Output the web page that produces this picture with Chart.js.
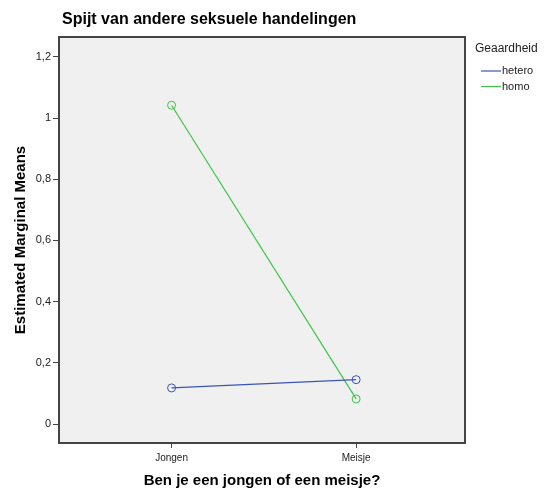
<!DOCTYPE html>
<html>
<script src="https://cdn.jsdelivr.net/npm/chart.js@4.4.0/dist/chart.umd.min.js"></script>
<body style="margin:0;background:#fff">
  <div style="width:545px;height:492px"><canvas id="myChart"></canvas></div>
  <script>
    var categories = ["Jongen", "Meisje"];
    var hetero = [0.118, 0.145];
    var homo = [1.042, 0.082];
    var yTicks = [0, 0.2, 0.4, 0.6, 0.8, 1, 1.2];
    var yLabels = ["0", "0,2", "0,4", "0,6", "0,8", "1", "1,2"];

    function points(vals) {
      return vals.map(function(v, i) { return { x: i + 1, y: v }; });
    }

    var frame = {
      id: "frame",
      beforeDraw: function(chart) {
        var a = chart.chartArea, c = chart.ctx;
        c.save();
        c.fillStyle = "#f0f0f0";
        c.fillRect(a.left, a.top, a.right - a.left, a.bottom - a.top);
        c.restore();
      },
      afterDraw: function(chart) {
        var a = chart.chartArea, c = chart.ctx;
        c.save();
        c.strokeStyle = "#444";
        c.lineWidth = 2;
        c.strokeRect(a.left, a.top, a.right - a.left, a.bottom - a.top);
        // title
        c.fillStyle = "#000";
        c.font = "bold 16px 'Liberation Sans', Arial";
        c.textBaseline = "alphabetic";
        c.fillText("Spijt van andere seksuele handelingen", 62, 24);
        // legend
        c.fillStyle = "#222";
        c.font = "12px 'Liberation Sans', Arial";
        c.fillText("Geaardheid", 475, 52);
        c.font = "11px 'Liberation Sans', Arial";
        chart.data.datasets.forEach(function(ds, i) {
          var y = 71 + i * 15.5;
          c.strokeStyle = ds.borderColor;
          c.lineWidth = 1.2;
          c.beginPath();
          c.moveTo(481, y);
          c.lineTo(501, y);
          c.stroke();
          c.fillStyle = "#222";
          c.textBaseline = "middle";
          c.fillText(ds.label, 502, y);
        });
        c.restore();
      }
    };

    new Chart(document.getElementById("myChart"), {
      type: "line",
      data: {
        datasets: [{
          label: "hetero",
          data: points(hetero),
          borderColor: "#3a55b4",
          backgroundColor: "rgba(0,0,0,0)",
          borderWidth: 1.2,
          pointRadius: 4,
          pointBorderWidth: 1,
          pointHoverRadius: 4
        }, {
          label: "homo",
          data: points(homo),
          borderColor: "#3ec44a",
          backgroundColor: "rgba(0,0,0,0)",
          borderWidth: 1.2,
          pointRadius: 4,
          pointBorderWidth: 1,
          pointHoverRadius: 4
        }]
      },
      options: {
        responsive: true,
        maintainAspectRatio: false,
        animation: false,
        layout: { padding: { left: 0, right: 80, top: 37, bottom: 0 } },
        plugins: { legend: { display: false }, tooltip: { enabled: false } },
        scales: {
          x: {
            type: "linear",
            min: 0.39,
            max: 2.59,
            afterBuildTicks: function(s) { s.ticks = categories.map(function(c, i) { return { value: i + 1 }; }); },
            afterFit: function(s) { s.height = 49; },
            grid: { drawOnChartArea: false, drawTicks: true, tickLength: 5, color: "#444" },
            border: { color: "#444", width: 2 },
            ticks: {
              padding: 4,
              color: "#222",
              font: { family: "'Liberation Sans', Arial", size: 10 },
              callback: function(v, i) { return categories[i]; }
            },
            title: {
              display: true,
              text: "Ben je een jongen of een meisje?",
              color: "#000",
              padding: 2,
              font: { family: "'Liberation Sans', Arial", size: 15, weight: "bold" }
            }
          },
          y: {
            min: -0.062,
            max: 1.265,
            afterBuildTicks: function(s) { s.ticks = yTicks.map(function(v) { return { value: v }; }); },
            afterFit: function(s) { s.width = 59; },
            grid: { drawOnChartArea: false, drawTicks: true, tickLength: 6, color: "#444" },
            border: { color: "#444", width: 2 },
            ticks: {
              padding: 2,
              color: "#222",
              font: { family: "'Liberation Sans', Arial", size: 11 },
              callback: function(v, i) { return yLabels[i]; }
            },
            title: {
              display: true,
              text: "Estimated Marginal Means",
              color: "#000",
              padding: 12,
              font: { family: "'Liberation Sans', Arial", size: 15, weight: "bold" }
            }
          }
        }
      },
      plugins: [frame]
    });
  </script>
</body>
</html>
